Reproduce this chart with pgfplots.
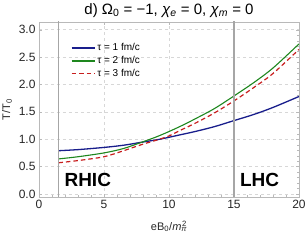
\documentclass[border=0pt]{standalone}
\usepackage{pgfplots}
\pgfplotsset{compat=1.18}
\usepackage{fontspec}
\setmainfont{Liberation Sans}
\definecolor{cblue}{RGB}{25,30,140}
\definecolor{cgreen}{RGB}{30,135,30}
\definecolor{cred}{RGB}{200,30,30}
\definecolor{framegray}{RGB}{185,185,185}
\definecolor{gridgray}{RGB}{215,215,215}
\begin{document}
\begin{tikzpicture}
\begin{axis}[
  scale only axis, width=260pt, height=175pt,
  xmin=0, xmax=20, ymin=-0.055, ymax=3.14,
  axis line style={framegray},
  xtick={0,5,10,15,20}, ytick={0,0.5,1,1.5,2,2.5,3},
  minor x tick num=4, minor y tick num=4,
  tick style={framegray}, major tick length=3pt, minor tick length=1.5pt,
  yticklabel style={/pgf/number format/.cd, fixed, fixed zerofill, precision=1},
  /pgf/number format/assume math mode=true,
  ticklabel style={font=\fontsize{12}{13}\selectfont, text=black!85},
  grid=major, major grid style={gridgray, dashed},
  title={d) Ω\textsubscript{0} = −1, \textit{χ}\textsubscript{\textit{e}} = 0, \textit{χ}\textsubscript{\textit{m}} = 0},
  title style={font=\fontsize{15}{16}\selectfont, yshift=-5pt},
  xlabel={eB\textsubscript{0}/\textit{m}\textsubscript{\textit{π}}\hspace{-0.45em}\textsuperscript{2}}, ylabel={T/T\textsubscript{0}},
  label style={font=\fontsize{11}{12}\selectfont, text=black!85},
  xlabel style={yshift=-5pt}, ylabel style={yshift=0pt},
  legend style={draw=none, fill=none, at={(0.11,0.90)}, anchor=north west,
    font=\fontsize{10}{11}\selectfont, row sep=0pt},
  legend cell align=left,
  every axis legend/.append style={/tikz/every even column/.append style={column sep=3pt}},
  legend image code/.code={\draw[#1, line width=1.6pt] (0pt,0pt) -- (23pt,0pt);},
]
\addplot[cblue, line width=1.3pt, smooth] coordinates {
(1.5,0.79) (3,0.81) (5,0.85) (6.5,0.89) (7.9,0.945) (9.3,1.0) (10.85,1.08) (12,1.14) (13.5,1.23) (15,1.34) (16.5,1.45) (18,1.58) (20,1.78)};
\addlegendentry{τ = 1 fm/c}
\addplot[cgreen, line width=1.1pt, smooth] coordinates {
(1.5,0.64) (3,0.68) (5,0.75) (6.5,0.83) (7.9,0.945) (9,1.04) (10,1.14) (11,1.25) (12,1.37) (13.5,1.56) (15,1.79) (16.5,2.03) (18,2.30) (20,2.74)};
\addlegendentry{τ = 2 fm/c}
\addplot[cred, line width=1.2pt, dash pattern=on 4.5pt off 3pt, smooth] coordinates {
(1.5,0.57) (3,0.61) (5,0.68) (6.5,0.79) (8,0.91) (9,0.98) (10,1.06) (10.85,1.16) (12,1.29) (13.5,1.48) (15,1.70) (16.5,1.94) (18,2.20) (20,2.64)};
\addlegendentry{τ = 3 fm/c}
\addplot[gray!70, line width=1.2pt, forget plot] coordinates {(1.5,-0.1) (1.5,3.2)};
\addplot[gray!70, line width=1.2pt, forget plot] coordinates {(15,-0.1) (15,3.2)};
\node[anchor=base west, font=\bfseries\fontsize{19}{19}\selectfont, inner sep=0pt] at (axis cs:1.95,0.13) {RHIC};
\node[anchor=base west, font=\bfseries\fontsize{19}{19}\selectfont, inner sep=0pt] at (axis cs:15.45,0.13) {LHC};
\end{axis}
\pgfresetboundingbox
\path (-39pt,-43pt) rectangle (266pt,197pt);
\end{tikzpicture}
\end{document}
